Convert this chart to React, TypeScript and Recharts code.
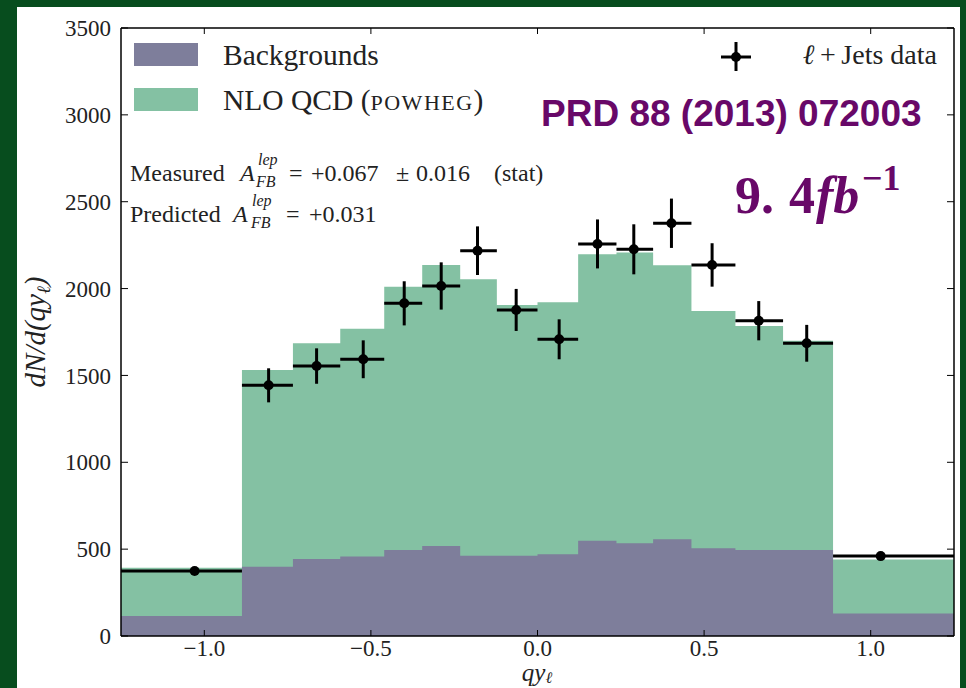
import { ComposedChart, Area, Scatter, ErrorBar, XAxis, YAxis } from 'recharts'

// bin edges in q*y_lep (variable width bins)
const binEdges = [-1.25, -0.887, -0.734, -0.592, -0.46, -0.346, -0.232, -0.122, 0, 0.122, 0.237, 0.347, 0.462, 0.594, 0.737, 0.887, 1.25]
// NLO QCD (POWHEG) + backgrounds, per bin
const nloTotal = [393, 1531, 1685, 1769, 2011, 2136, 2053, 1905, 1921, 2197, 2207, 2134, 1871, 1785, 1700, 441]
const backgrounds = [115, 399, 443, 457, 495, 518, 462, 462, 470, 549, 534, 557, 505, 495, 495, 130]

// l+jets data
const dataX = [-1.029, -0.807, -0.663, -0.523, -0.4, -0.289, -0.18, -0.064, 0.065, 0.18, 0.289, 0.402, 0.524, 0.664, 0.808, 1.03]
const dataY = [374, 1443, 1554, 1593, 1915, 2015, 2218, 1877, 1708, 2257, 2226, 2376, 2136, 1815, 1685, 460]
const dataErr = [15, 98, 102, 109, 127, 136, 140, 121, 115, 141, 144, 142, 125, 113, 106, 15]

const xTicks = [-1, -0.5, 0, 0.5, 1]
const yTicks = [0, 500, 1000, 1500, 2000, 2500, 3000, 3500]

const histData = binEdges.map((x, i) => {
  const k = Math.min(i, nloTotal.length - 1)
  return { x, total: nloTotal[k], bg: backgrounds[k] }
})

const points = dataX.map((x, i) => ({
  x,
  y: dataY[i],
  ey: dataErr[i],
  ex: [x - binEdges[i], binEdges[i + 1] - x],
}))

const GREEN = '#84c1a3'
const PURPLE = '#7e7e9b'
const MAGENTA = '#680868'
const serif = '"Liberation Serif", "Times New Roman", serif'
const sans = '"Liberation Sans", Arial, sans-serif'

const tickStyle = { fontSize: 23, fill: '#222', fontFamily: serif }
const axisLine = { stroke: '#000', strokeWidth: 1.5 }
const tickLine = { stroke: '#000', strokeWidth: 1 }

const fmtX = (v: number) => v.toFixed(1).replace('-', '\u2212')

export default function App() {
  return (
    <div style={{ position: 'fixed', left: 0, top: 0, width: 966, height: 688, background: '#074d1e' }}>
      <div style={{ position: 'absolute', left: 17, top: 7, width: 943, height: 681, background: '#fff' }} />
      <div style={{ position: 'absolute', left: 0, top: 0 }}>
        <ComposedChart width={966} height={688} data={histData} margin={{ top: 27, right: 11, bottom: 0, left: 0 }}>
          <XAxis
            xAxisId="b"
            type="number"
            dataKey="x"
            domain={[-1.25, 1.25]}
            allowDataOverflow
            ticks={xTicks}
            tickFormatter={fmtX}
            height={52}
            tickSize={-6}
            tickMargin={10}
            tick={tickStyle}
            axisLine={axisLine}
            tickLine={tickLine}
          />
          <XAxis
            xAxisId="t"
            orientation="top"
            type="number"
            dataKey="x"
            domain={[-1.25, 1.25]}
            allowDataOverflow
            ticks={xTicks}
            tickFormatter={() => ''}
            height={1}
            tickSize={-6}
            axisLine={axisLine}
            tickLine={tickLine}
          />
          <YAxis
            yAxisId="l"
            type="number"
            domain={[0, 3500]}
            allowDataOverflow
            ticks={yTicks}
            width={121}
            tickSize={-7}
            tickMargin={17}
            tick={tickStyle}
            axisLine={axisLine}
            tickLine={tickLine}
          />
          <YAxis
            yAxisId="r"
            orientation="right"
            type="number"
            domain={[0, 3500]}
            allowDataOverflow
            ticks={yTicks}
            tickFormatter={() => ''}
            width={1}
            tickSize={-7}
            axisLine={axisLine}
            tickLine={tickLine}
          />
          <Area
            xAxisId="b"
            yAxisId="l"
            type="stepAfter"
            dataKey="total"
            stroke="none"
            fill={GREEN}
            fillOpacity={1}
            isAnimationActive={false}
          />
          <Area
            xAxisId="b"
            yAxisId="l"
            type="stepAfter"
            dataKey="bg"
            stroke="none"
            fill={PURPLE}
            fillOpacity={1}
            isAnimationActive={false}
          />
          <Scatter
            xAxisId="b"
            yAxisId="l"
            data={points}
            dataKey="y"
            isAnimationActive={false}
            shape={(p: any) => <circle cx={p.cx} cy={p.cy} r={5} fill="#000" />}
          >
            <ErrorBar dataKey="ey" direction="y" width={0} stroke="#000" strokeWidth={3} isAnimationActive={false} />
            <ErrorBar dataKey="ex" direction="x" width={0} stroke="#000" strokeWidth={3} isAnimationActive={false} />
          </Scatter>
        </ComposedChart>
      </div>
      <svg width={966} height={688} style={{ position: 'absolute', left: 0, top: 0, pointerEvents: 'none' }}>
        {/* legend */}
        <rect x={134} y={43} width={64} height={23} fill={PURPLE} />
        <text x={223} y={65} fontSize={29.5} fontFamily={serif} fill="#222">Backgrounds</text>
        <rect x={134} y={88} width={64} height={23} fill={GREEN} />
        <text x={223} y={110} fontSize={29.5} fontFamily={serif} fill="#222">
          NLO QCD (<tspan fontSize={22} letterSpacing={1.5}>POWHEG</tspan>)
        </text>
        <line x1={721} y1={57} x2={751} y2={57} stroke="#000" strokeWidth={3} />
        <line x1={736} y1={42} x2={736} y2={71} stroke="#000" strokeWidth={3} />
        <circle cx={736} cy={57} r={5} fill="#000" />
        <text x={937} y={64} textAnchor="end" fontSize={28} fontFamily={serif} fill="#222">
          <tspan fontStyle="italic">ℓ</tspan>{'\u2009+\u2009'}Jets data
        </text>

        {/* asymmetry annotations */}
        <g fontFamily={serif} fill="#222" fontSize={24}>
          <text x={130} y={181}>Measured</text>
          <text x={240} y={181} fontStyle="italic">A</text>
          <text x={258} y={165} fontStyle="italic" fontSize={16}>lep</text>
          <text x={256} y={187} fontStyle="italic" fontSize={16}>FB</text>
          <text x={289} y={181}>=</text>
          <text x={311} y={181}>+0.067</text>
          <text x={396} y={181}>±</text>
          <text x={416} y={181}>0.016</text>
          <text x={494} y={181}>(stat)</text>

          <text x={130} y={222}>Predicted</text>
          <text x={233} y={222} fontStyle="italic">A</text>
          <text x={252} y={206} fontStyle="italic" fontSize={16}>lep</text>
          <text x={251} y={228} fontStyle="italic" fontSize={16}>FB</text>
          <text x={286} y={222}>=</text>
          <text x={309} y={222}>+0.031</text>
        </g>

        {/* publication labels */}
        <text x={541} y={126} fontSize={37} fontWeight="bold" fontFamily={sans} fill={MAGENTA}>
          PRD 88 (2013) 072003
        </text>
        <g fontFamily={serif} fontWeight="bold" fill={MAGENTA}>
          <text x={735} y={213} fontSize={52}>9.</text>
          <text x={789} y={213} fontSize={52}>4</text>
          <text x={816} y={213} fontSize={52} fontStyle="italic">fb</text>
          <text x={862} y={190} fontSize={36}>−1</text>
        </g>

        {/* axis labels */}
        <text x={537} y={681} textAnchor="middle" fontSize={25} fontFamily={serif} fontStyle="italic" fill="#222">
          qy<tspan fontSize={16} dy={2}>ℓ</tspan>
        </text>
        <text
          x={0}
          y={0}
          transform="translate(45 332) rotate(-90)"
          textAnchor="middle"
          fontSize={29}
          fontFamily={serif}
          fontStyle="italic"
          fill="#222"
        >
          dN/d(qy<tspan fontSize={19} dy={5}>ℓ</tspan><tspan dy={-5}>)</tspan>
        </text>
      </svg>
    </div>
  )
}
